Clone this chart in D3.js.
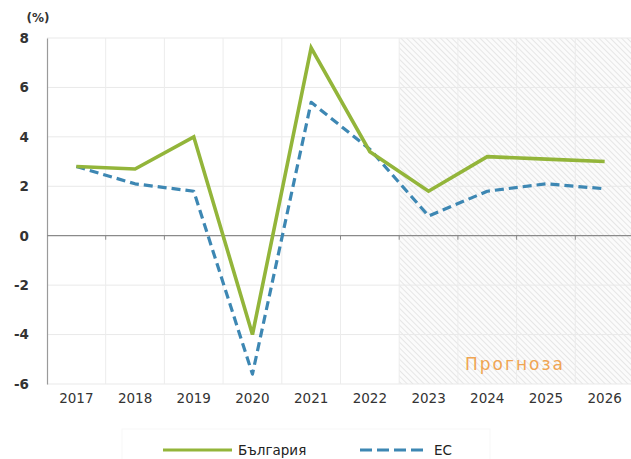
<!DOCTYPE html>
<html>
<head>
<meta charset="utf-8">
<script src="https://cdn.jsdelivr.net/npm/d3@7/dist/d3.min.js"></script>
<style>
  html, body { margin: 0; padding: 0; background: #fff; }
  svg { display: block; }
</style>
</head>
<body>
<script>
// Real GDP growth, Bulgaria vs EU (%), with forecast years shaded
const years = ["2017","2018","2019","2020","2021","2022","2023","2024","2025","2026"];
const bulgaria = [2.8, 2.7, 4.0, -4.0, 7.6, 3.4, 1.8, 3.2, 3.1, 3.0];
const eu = [2.8, 2.1, 1.8, -5.6, 5.4, 3.5, 0.8, 1.8, 2.1, 1.9];
const yTicks = [-6, -4, -2, 0, 2, 4, 6, 8];
const forecastYears = ["2023","2024","2025","2026"];
const seriesNames = ["България", "ЕС"];

const W = 631, H = 459;
const margin = { left: 47, top: 38, right: -3, bottom: 75 };
const svg = d3.select("body").append("svg").attr("width", W).attr("height", H);

const x = d3.scaleBand().domain(years).range([margin.left, W - margin.right]).padding(0);
const y = d3.scaleLinear().domain([-6, 8]).range([H - margin.bottom, margin.top]);

const font = "'DejaVu Sans', Verdana, sans-serif";

// Hatch pattern for the forecast area (lines running top-left to bottom-right)
const defs = svg.append("defs");
const pat = defs.append("pattern")
  .attr("id", "hatch").attr("patternUnits", "userSpaceOnUse")
  .attr("width", 4).attr("height", 4)
  .attr("patternTransform", "rotate(-45)");
pat.append("rect").attr("width", 4).attr("height", 4).attr("fill", "#fbfbfb");
pat.append("line").attr("x1", 0).attr("y1", 0).attr("x2", 0).attr("y2", 4)
  .attr("stroke", "#d9d9d9").attr("stroke-width", 1.2);

const fx0 = x(forecastYears[0]);
const fx1 = x(forecastYears[forecastYears.length - 1]) + x.bandwidth();
svg.append("rect")
  .attr("x", fx0).attr("y", y(8))
  .attr("width", fx1 - fx0).attr("height", y(-6) - y(8))
  .attr("fill", "url(#hatch)");

// Gridlines
const grid = svg.append("g");
grid.selectAll("line.h").data(yTicks.filter(d => d !== 0)).join("line")
  .attr("x1", margin.left).attr("x2", W - margin.right)
  .attr("y1", d => y(d)).attr("y2", d => y(d))
  .attr("stroke", "#e9e9e9").attr("stroke-width", 1);
grid.selectAll("line.v").data(years.slice(1)).join("line")
  .attr("x1", d => x(d)).attr("x2", d => x(d))
  .attr("y1", y(8)).attr("y2", y(-6))
  .attr("stroke", "#ececec").attr("stroke-width", 1);

// Y axis
const yAxis = svg.append("g")
  .attr("transform", `translate(${margin.left},0)`)
  .call(d3.axisLeft(y).tickValues(yTicks).tickFormat(d => String(d)).tickSize(0).tickPadding(18));
yAxis.select(".domain").attr("stroke", "#9a9a9a").attr("stroke-width", 1.2);
yAxis.selectAll("text").attr("font-family", font).attr("font-size", 13.5)
  .attr("font-weight", "bold").attr("fill", "#333");

// Zero line with small category ticks
const zeroAxis = svg.append("g")
  .attr("transform", `translate(0,${y(0)})`);
zeroAxis.append("line")
  .attr("x1", margin.left).attr("x2", W - margin.right)
  .attr("stroke", "#8a8a8a").attr("stroke-width", 1.3);
zeroAxis.selectAll("line.t").data(years.slice(1)).join("line")
  .attr("x1", d => x(d)).attr("x2", d => x(d)).attr("y1", 0).attr("y2", 4)
  .attr("stroke", "#8a8a8a").attr("stroke-width", 1);

// X labels along the bottom
const xAxis = svg.append("g")
  .attr("transform", `translate(0,${y(-6)})`)
  .call(d3.axisBottom(x).tickSize(0).tickPadding(9));
xAxis.select(".domain").remove();
xAxis.selectAll("text").attr("font-family", font).attr("font-size", 13.5)
  .attr("fill", "#333");

// Unit label
svg.append("text").attr("x", 38).attr("y", 22).attr("text-anchor", "middle")
  .attr("font-family", font).attr("font-size", 12).attr("font-weight", "bold")
  .attr("fill", "#333").text("(%)");

// Forecast label
svg.append("text").attr("x", 515).attr("y", 370).attr("text-anchor", "middle")
  .attr("font-family", font).attr("font-size", 17).attr("letter-spacing", 2)
  .attr("fill", "#f0a552").text("Прогноза");

// Series lines
const line = d3.line()
  .x((d, i) => x(years[i]) + x.bandwidth() / 2)
  .y(d => y(d));

svg.append("path").datum(eu)
  .attr("d", line).attr("fill", "none")
  .attr("stroke", "#3d87b3").attr("stroke-width", 3.2)
  .attr("stroke-linejoin", "round")
  .attr("stroke-dasharray", "9,5");

svg.append("path").datum(bulgaria)
  .attr("d", line).attr("fill", "none")
  .attr("stroke", "#93b53a").attr("stroke-width", 3.6)
  .attr("stroke-linejoin", "miter");

// Legend
const lg = svg.append("g");
lg.append("rect").attr("x", 122).attr("y", 429).attr("width", 368).attr("height", 34)
  .attr("fill", "#fff").attr("stroke", "#f7f7f7");
lg.append("line").attr("x1", 163).attr("x2", 232).attr("y1", 450).attr("y2", 450)
  .attr("stroke", "#93b53a").attr("stroke-width", 3);
lg.append("text").attr("x", 238).attr("y", 455)
  .attr("font-family", font).attr("font-size", 13.5).attr("fill", "#222")
  .text(seriesNames[0]);
lg.append("line").attr("x1", 360).attr("x2", 428).attr("y1", 450).attr("y2", 450)
  .attr("stroke", "#3d87b3").attr("stroke-width", 3).attr("stroke-dasharray", "12,5");
lg.append("text").attr("x", 434).attr("y", 455)
  .attr("font-family", font).attr("font-size", 13.5).attr("fill", "#222")
  .text(seriesNames[1]);
</script>
</body>
</html>
